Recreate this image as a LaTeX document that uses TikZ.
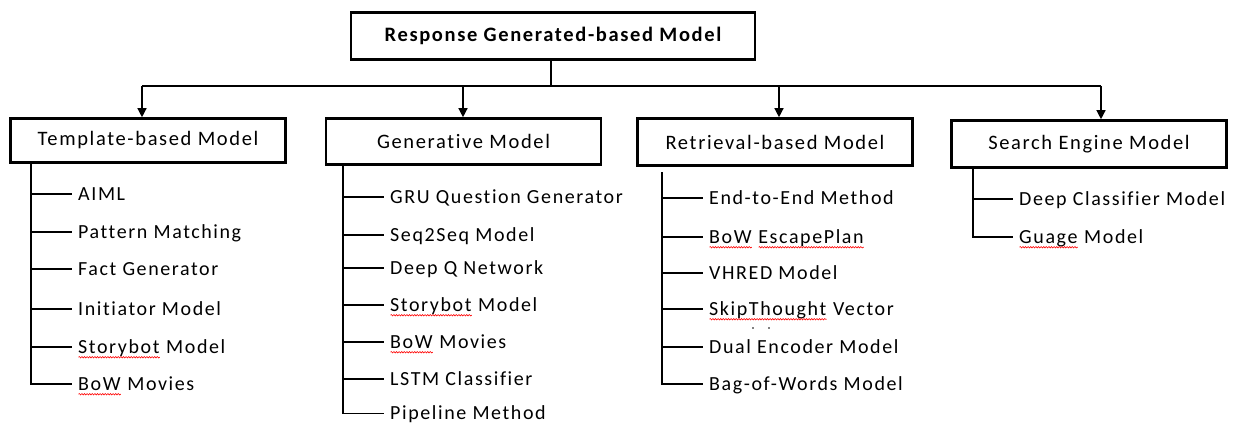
\documentclass[tikz,border=0pt]{standalone}
\usepackage{fontspec}
\setmainfont{Carlito}[LetterSpace=8,Ligatures=NoCommon]
\usetikzlibrary{arrows.meta,decorations.pathmorphing}

% red wavy underline for flagged words
\newsavebox\spellbox
\newdimen\spellwd
\newcommand\spell[1]{\leavevmode\sbox\spellbox{#1}\spellwd=\wd\spellbox\rlap{\usebox\spellbox}\tikz[baseline=0pt]\draw[red,line width=0.6pt,decorate,decoration={snake,amplitude=0.7pt,segment length=2.6pt}] (0pt,-4pt) -- (\spellwd,-4pt);}

\tikzset{
  topbox/.style={draw,line width=2.6pt,minimum width=404pt,minimum height=47pt,inner sep=0pt,font=\fontsize{20.5}{22}\selectfont\bfseries},
  catbox/.style={draw,line width=2.6pt,minimum width=275pt,inner sep=0pt,font=\fontsize{20.5}{22}\selectfont},
  item/.style={anchor=west,inner xsep=6pt,inner ysep=0pt,text height=15.5pt,text depth=3pt,font=\fontsize{20}{22}\selectfont},
  tree/.style={line width=1.3pt,line join=miter},
  arr/.style={line width=1.3pt,-{Triangle[length=9pt,width=9pt]}}
}

\begin{document}
\begin{tikzpicture}[x=1pt,y=-1pt]
\useasboundingbox (0,0) rectangle (1245,425);

% root and categories
\node[topbox] (root) at (553,36) {Response Generated-based Model};
\node[catbox,minimum height=44pt] (tmpl) at (148,140.5) {Template-based Model};
\node[catbox,minimum height=46pt] (gen)  at (463.5,141.5) {Generative Model};
\node[catbox,minimum height=47pt] (ret)  at (775,142) {Retrieval-based Model};
\node[catbox,minimum height=47pt] (srch) at (1089,144) {Search Engine Model};

% distribution bus
\coordinate (bus) at (551,86);
\coordinate (aT) at (142,86);
\coordinate (aG) at (463,86);
\coordinate (aR) at (779,86);
\coordinate (aS) at (1101,86);
\draw[tree] (root.south -| bus) -- (bus);
\draw[tree] (aT) -- (aS);
\draw[arr] (aT) -- (aT |- tmpl.north);
\draw[arr] (aG) -- (aG |- gen.north);
\draw[arr] (aR) -- (aR |- ret.north);
\draw[arr] (aS) -- (aS |- srch.north);

% template-based branch
\coordinate (tx) at (31,0);
\node[item] (t1) at (72,194) {AIML};
\node[item] (t2) at (72,232) {Pattern Matching};
\node[item] (t3) at (72,269) {Fact Generator};
\node[item] (t4) at (72,309) {Initiator Model};
\node[item] (t5) at (72,347) {\spell{Storybot} Model};
\node[item] (t6) at (72,384) {\spell{BoW} Movies};
\draw[tree] (tmpl.south -| tx) -- (t6.west -| tx) -- (t6.west);
\foreach \n in {t1,t2,t3,t4,t5} \draw[tree] (\n.west -| tx) -- (\n.west);

% generative branch
\coordinate (gx) at (343,0);
\node[item] (g1) at (384,197) {GRU Question Generator};
\node[item] (g2) at (384,235) {Seq2Seq Model};
\node[item] (g3) at (384,268) {Deep Q Network};
\node[item] (g4) at (384,305) {\spell{Storybot} Model};
\node[item] (g5) at (384,342) {\spell{BoW} Movies};
\node[item] (g6) at (384,379) {LSTM Classifier};
\node[item] (g7) at (384,413.5) {Pipeline Method};
\draw[tree] (gen.south -| gx) -- (g7.west -| gx) -- (g7.west);
\foreach \n in {g1,g2,g3,g4,g5,g6} \draw[tree] (\n.west -| gx) -- (\n.west);

% retrieval-based branch
\coordinate (rx) at (662,172);
\node[item] (r1) at (703,198) {End-to-End Method};
\node[item] (r2) at (703,237) {\spell{BoW} \spell{EscapePlan}};
\node[item] (r3) at (703,273) {VHRED Model};
\node[item] (r4) at (703,309) {\spell{SkipThought} Vector};
\node[item] (r5) at (703,347) {Dual Encoder Model};
\node[item] (r6) at (703,384) {Bag-of-Words Model};
\draw[tree] (rx) -- (r6.west -| rx) -- (r6.west);
\foreach \n in {r1,r2,r3,r4,r5} \draw[tree] (\n.west -| rx) -- (\n.west);
\fill (753,328) circle (0.9) (769,328) circle (0.9);

% search engine branch
\coordinate (sx) at (973,0);
\node[item] (s1) at (1013,199) {Deep Classifier Model};
\node[item] (s2) at (1013,237) {\spell{Guage} Model};
\draw[tree] (srch.south -| sx) -- (s2.west -| sx) -- (s2.west);
\draw[tree] (s1.west -| sx) -- (s1.west);
\end{tikzpicture}
\end{document}
